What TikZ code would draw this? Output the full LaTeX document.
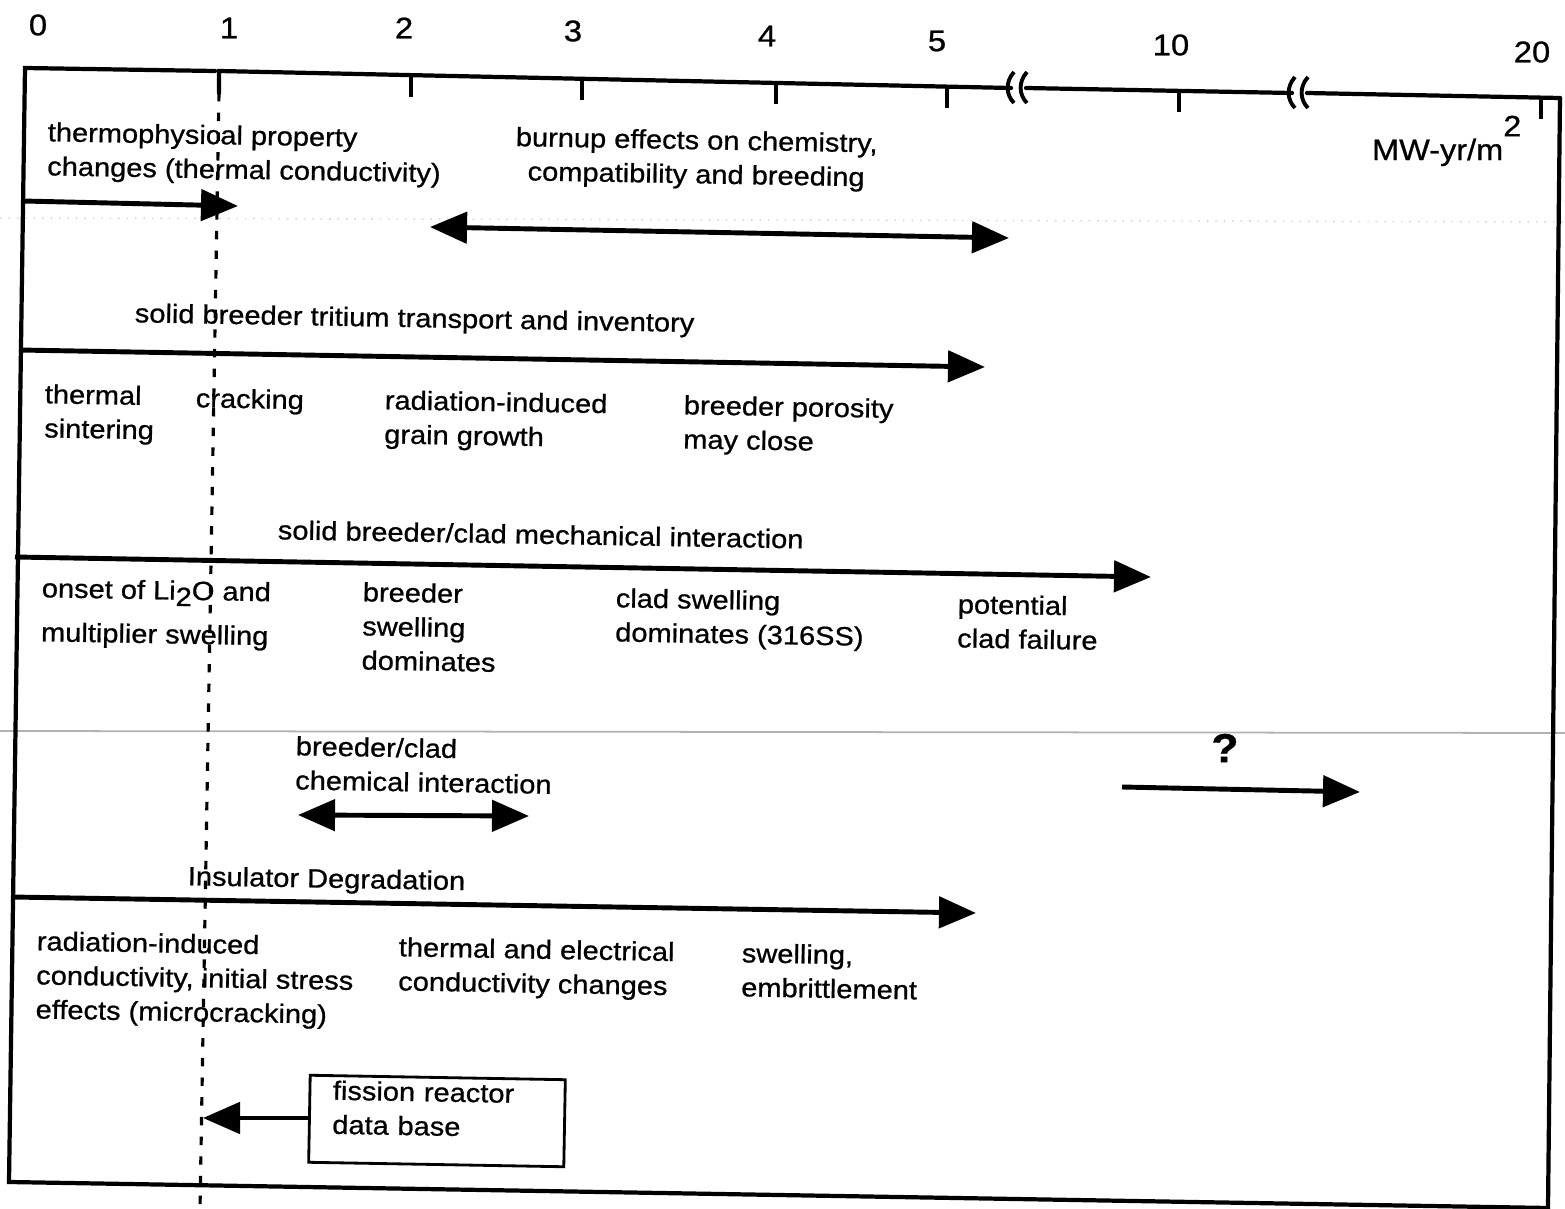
\documentclass[tikz,border=0pt]{standalone}
\usepackage{fontspec}
\setmainfont{Liberation Sans}[FakeStretch=1.1, FakeBold=0.8]
\usetikzlibrary{arrows.meta}

\begin{document}
\begin{tikzpicture}[
    x=0.01cm, y=-0.01cm,
    line width=1.2pt, >={Triangle[length=3.7mm,width=3.1mm]},
    border/.style={line width=1.2pt, line cap=round},
    tick/.style={line width=1.1pt},
    guide/.style={line width=0.9pt, dash pattern=on 2.4pt off 3.2pt},
    span/.style={->, line width=1.4pt},
    twoway/.style={<->, line width=1.4pt},
    lab/.style={font=\fontsize{7.5}{9.7}\selectfont, inner sep=0pt, align=left,
                anchor=north west, rotate=-1},
    num/.style={font=\fontsize{8.5}{10}\selectfont, inner sep=0pt},
    dbbox/.style={draw, line width=0.8pt, inner xsep=0.23cm, inner ysep=0pt,
                  text width=2.09cm, minimum height=0.87cm, align=left,
                  font=\fontsize{7.5}{9.7}\selectfont, rotate=-1}]
  % fixed canvas, 1 unit = 1 px of the scan
  \useasboundingbox (0,0) rectangle (1565,1209);

  % fold lines of the scanned page
  \draw[gray!35, line width=0.4pt, dotted] (0,218) -- (1565,222);
  \draw[gray!60, line width=0.5pt] (0,731) -- (1565,733);

  % ================= frame and dose axis =================
  \draw[border] (215,71) -- (25,68) -- (9,1182) -- (1548,1208);
  \draw[border] (1560,98) -- (1548,1209);
  \draw[border] (219,93) -- (219,71) -- (1011,88);
  \draw[border] (1026,88) -- (1292,93);
  \draw[border] (1307,93) -- (1560,98);
  % axis breaks
  \foreach \bx/\by in {1011/88, 1292/93}
    \foreach \d in {0,13}
      \draw[tick] (\bx+\d+3,\by-16) .. controls (\bx+\d-6,\by-6) and (\bx+\d-5,\by+7) .. (\bx+\d+3,\by+15);
  % ticks and values
  \foreach \tx/\ty in {411/75, 582/78, 776/82, 947/86, 1179/90, 1541/97}
    \draw[tick] (\tx,\ty) -- ++(0,22);
  \foreach \v/\nx/\ny in {0/38/25, 1/229/28, 2/404/28, 3/573/31, 4/767/36, 5/937/41, 10/1171/45, 20/1532/52}
    \node[num] (n\v) at (\nx,\ny) {\v};
  \node[num, font=\fontsize{8.4}{10}\selectfont, anchor=base west] (unit) at (1370,160)
    {MW-yr/m\raisebox{0.8em}{2}};
  % 1 MW-yr/m^2 marker
  \draw[guide] (219,93) -- (200,1209);

  % ================= thermophysical / burnup =================
  \node[lab] (thermo) at (46,120) {thermophysical property\\changes (thermal conductivity)};
  \coordinate (thermoS) at (23,201);
  \coordinate (thermoE) at (238,206);
  \draw[span] (thermoS) -- (thermoE);

  \node[lab, anchor=north, align=center] (burnup) at (697,128)
    {burnup effects on chemistry,\\compatibility and breeding};
  \coordinate (burnupS) at (430,227);
  \coordinate (burnupE) at (1009,238);
  \draw[twoway] (burnupS) -- (burnupE);

  % ================= tritium transport =================
  \node[lab] (tritium) at (133,301) {solid breeder tritium transport and inventory};
  \coordinate (tritS) at (19,350);
  \coordinate (tritE) at (985,367);
  \draw[span] (tritS) -- (tritE);
  \node[lab] (sinter) at (43,382) {thermal\\sintering};
  \node[lab] (crack) at (194,386) {cracking};
  \node[lab] (grain) at (383,388) {radiation-induced\\grain growth};
  \node[lab] (poros) at (682,393) {breeder porosity\\may close};

  % ================= mechanical interaction =================
  \node[lab] (mech) at (276,518) {solid breeder/clad mechanical interaction};
  \coordinate (mechS) at (15,557);
  \coordinate (mechE) at (1151,577);
  \draw[span] (mechS) -- (mechE);
  \node[lab] (onset) at (40,576) {onset of Li\raisebox{-0.45ex}{2}O and\\[2.8pt]multiplier swelling};
  \node[lab] (bswell) at (361,580) {breeder\\swelling\\dominates};
  \node[lab] (cswell) at (614,586) {clad swelling\\dominates (316SS)};
  \node[lab] (cfail) at (956,592) {potential\\clad failure};

  % ================= chemical interaction =================
  \node[lab] (chem) at (294,734) {breeder/clad\\chemical interaction};
  \coordinate (chemS) at (298,815);
  \coordinate (chemE) at (529,816);
  \draw[twoway] (chemS) -- (chemE);
  \node[font=\bfseries\fontsize{11.5}{13}\selectfont, inner sep=0pt] (qm) at (1225,748) {?};
  \coordinate (qmS) at (1122,787);
  \coordinate (qmE) at (1360,792);
  \draw[span] (qmS) -- (qmE);

  % ================= insulator degradation =================
  \node[lab] (insul) at (186,864) {Insulator Degradation};
  \coordinate (insulS) at (12,897);
  \coordinate (insulE) at (976,913);
  \draw[span] (insulS) -- (insulE);
  \node[lab] (ric) at (35,929) {radiation-induced\\conductivity, initial stress\\effects (microcracking)};
  \node[lab] (tec) at (397,935) {thermal and electrical\\conductivity changes};
  \node[lab] (embr) at (740,941) {swelling,\\embrittlement};

  % ================= fission reactor data =================
  \node[dbbox] (db) at (437,1121) {fission reactor\\data base\rule[-0.24cm]{0pt}{0pt}};
  \coordinate (dbtip) at (203,1118);
  \draw[span] (db.west |- dbtip) -- (dbtip);
\end{tikzpicture}
\end{document}
